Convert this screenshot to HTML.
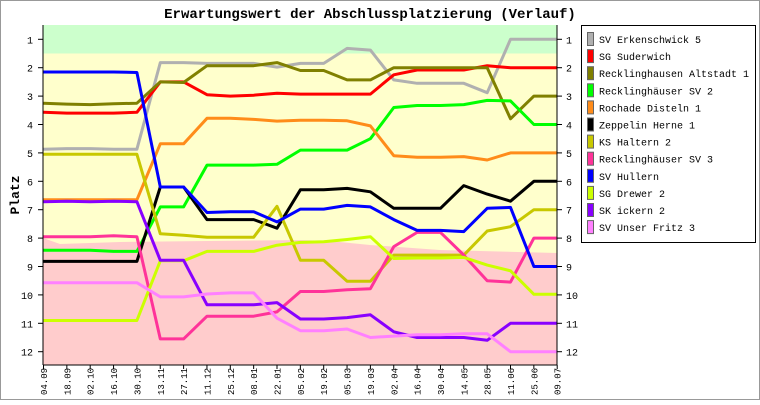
<!DOCTYPE html>
<html><head><meta charset="utf-8"><style>
body{margin:0;background:#fff}
svg text{font-family:"Liberation Mono","DejaVu Sans Mono",monospace}
</style></head><body>
<svg id="c" width="760" height="400" viewBox="0 0 760 400" xmlns="http://www.w3.org/2000/svg">
<rect x="0.5" y="0.5" width="759" height="399" fill="#fff" stroke="#999"/>
<text x="370" y="18" text-anchor="middle" font-size="14" font-weight="bold">Erwartungswert der Abschlussplatzierung (Verlauf)</text>
<rect x="43" y="25" width="514" height="28.5" fill="#ccffcc"/>
<rect x="43" y="53.5" width="514" height="200" fill="#ffffcc"/>
<polygon points="43,238 60,244 120,242 300,240 330,241 370,245 440,250 557,253 557,365 43,365" fill="#ffcccc"/>
<g id="lines"></g>
<line x1="43" y1="25" x2="43" y2="365" stroke="#000"/>
<line x1="43" y1="365" x2="557" y2="365" stroke="#000"/>
<line x1="557" y1="25" x2="557" y2="365" stroke="#000"/>
<g id="ax"></g>
<text transform="translate(19,195) rotate(-90)" text-anchor="middle" font-size="13" font-weight="bold">Platz</text>
<rect x="581.5" y="25.5" width="174" height="217" fill="#fff" stroke="#000"/>
<g id="leg"></g>
</svg>
<script>
const NS="http://www.w3.org/2000/svg";
const X=i=>43.5+i*23.35, Y=p=>39.3+(p-1)*28.4;
const dates=["04.09","18.09","02.10","16.10","30.10","13.11","27.11","11.12","25.12","08.01","22.01","05.02","19.02","05.03","19.03","02.04","16.04","30.04","14.05","28.05","11.06","25.06","09.07"];
const S=[
["SV Erkenschwick 5","#b0b0b0",[4.87,4.85,4.85,4.87,4.87,1.82,1.82,1.85,1.85,1.85,1.98,1.85,1.85,1.32,1.38,2.43,2.55,2.55,2.55,2.88,1,1,1]],
["SG Suderwich","#ff0000",[3.57,3.6,3.6,3.6,3.57,2.5,2.5,2.95,3,2.97,2.9,2.93,2.93,2.93,2.93,2.25,2.08,2.08,2.08,1.93,2,2,2]],
["Recklinghausen Altstadt 1","#808000",[3.25,3.28,3.3,3.27,3.25,2.5,2.52,1.93,1.93,1.93,1.82,2.1,2.1,2.43,2.43,2,2,2,2,2,3.8,3,3]],
["Recklinghäuser SV 2","#00ff00",[8.43,8.43,8.43,8.47,8.47,6.9,6.9,5.43,5.43,5.43,5.4,4.9,4.9,4.9,4.5,3.4,3.33,3.33,3.3,3.15,3.17,4,4]],
["Rochade Disteln 1","#ff8c1a",[6.65,6.65,6.65,6.65,6.65,4.68,4.68,3.78,3.78,3.82,3.88,3.85,3.85,3.87,4.05,5.1,5.15,5.15,5.13,5.25,5,5,5]],
["Zeppelin Herne 1","#000000",[8.82,8.82,8.82,8.82,8.82,6.2,6.2,7.35,7.35,7.35,7.65,6.3,6.3,6.25,6.37,6.95,6.95,6.95,6.15,6.45,6.7,6,6]],
["KS Haltern 2","#c8c800",[5.05,5.05,5.05,5.05,5.05,7.85,7.9,7.97,7.97,7.97,6.88,8.78,8.78,9.52,9.52,8.6,8.6,8.6,8.6,7.75,7.6,7,7]],
["Recklinghäuser SV 3","#ff3399",[7.95,7.95,7.95,7.92,7.95,11.55,11.55,10.75,10.75,10.75,10.6,9.88,9.88,9.82,9.78,8.3,7.8,7.8,8.6,9.5,9.55,8,8]],
["SV Hullern","#0000ff",[2.15,2.15,2.15,2.15,2.17,6.2,6.2,7.1,7.07,7.07,7.43,6.98,6.98,6.85,6.9,7.35,7.73,7.73,7.77,6.95,6.92,9,9]],
["SG Drewer 2","#ccff00",[10.9,10.9,10.9,10.9,10.9,8.8,8.8,8.47,8.47,8.47,8.25,8.15,8.13,8.05,7.95,8.72,8.7,8.7,8.68,8.95,9.15,9.98,9.98]],
["SK ickern 2","#8800ff",[6.72,6.7,6.72,6.7,6.72,8.78,8.78,10.35,10.35,10.35,10.27,10.85,10.85,10.8,10.7,11.3,11.5,11.5,11.5,11.6,11,11,11]],
["SV Unser Fritz 3","#ff80ff",[9.57,9.57,9.57,9.57,9.57,10.07,10.07,9.97,9.93,9.93,10.82,11.26,11.26,11.2,11.5,11.45,11.4,11.4,11.37,11.37,12,12,12]]];
const L=document.getElementById("lines"),A=document.getElementById("ax"),G=document.getElementById("leg");
function el(t,a,p,txt){const e=document.createElementNS(NS,t);for(const k in a)e.setAttribute(k,a[k]);if(txt)e.textContent=txt;p.appendChild(e);return e;}
S.forEach(s=>el("polyline",{points:s[2].map((p,i)=>X(i).toFixed(1)+","+Y(p).toFixed(1)).join(" "),fill:"none",stroke:s[1],"stroke-width":3,"stroke-linejoin":"round"},L));
for(let p=1;p<=12;p++){const y=Y(p);
el("line",{x1:38,y1:y,x2:43,y2:y,stroke:"#000"},A);el("line",{x1:557,y1:y,x2:562,y2:y,stroke:"#000"},A);
el("text",{x:33,y:y+4,"text-anchor":"end","font-size":10},A,p);el("text",{x:566,y:y+4,"font-size":10},A,p);}
dates.forEach((d,i)=>{const x=X(i);el("line",{x1:x,y1:365,x2:x,y2:369,stroke:"#000"},A);
el("text",{transform:`translate(${x+3.5},395) rotate(-90)`,"font-size":9},A,d);});
S.forEach((s,i)=>{const y=32.5+i*17.1;el("rect",{x:587.5,y:y,width:6,height:13,fill:s[1],stroke:"#666"},G);
el("text",{x:599,y:y+10.5,"font-size":10},G,s[0]);});
</script>
</body></html>
